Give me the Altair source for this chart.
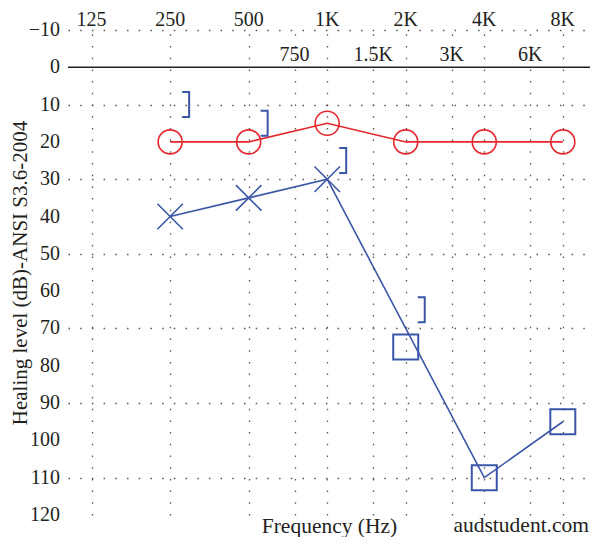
import altair as alt
import pandas as pd

FONT = "Liberation Serif"
RED = "#e8262d"
BLUE = "#3a56a8"
INK = "#231f20"

# ---- data ----
freqs = [250, 500, 1000, 2000, 4000, 8000]
right_air_db = [20, 20, 15, 20, 20, 20]
left_unmasked_freqs = [250, 500, 1000]
left_unmasked_db = [40, 35, 30]
left_masked_freqs = [2000, 4000, 8000]
left_masked_db = [75, 110, 95]
left_line_freqs = [250, 500, 1000, 4000, 8000]
left_line_db = [40, 35, 30, 110, 95]
left_bone_freqs = [250, 500, 1000, 2000]
left_bone_db = [10, 15, 25, 65]
octave_freqs = [125, 250, 500, 1000, 2000, 4000, 8000]
octave_labels = ["125", "250", "500", "1K", "2K", "4K", "8K"]
mid_freqs = [750, 1500, 3000, 6000]
mid_labels = ["750", "1.5K", "3K", "6K"]
grid_freqs = [125, 250, 500, 750, 1000, 1500, 2000, 3000, 4000, 6000, 8000]
db_ticks = [-10, 0, 10, 20, 30, 40, 50, 60, 70, 80, 90, 100, 110, 120]
db_tick_labels = ["\u221210", "0", "10", "20", "30", "40", "50", "60",
                  "70", "80", "90", "100", "110", "120"]

right_df = pd.DataFrame({"freq": freqs, "db": right_air_db})
left_x_df = pd.DataFrame({"freq": left_unmasked_freqs, "db": left_unmasked_db})
left_sq_df = pd.DataFrame({"freq": left_masked_freqs, "db": left_masked_db})
left_line_df = pd.DataFrame({"freq": left_line_freqs, "db": left_line_db})
bone_df = pd.DataFrame({"freq": left_bone_freqs, "db": left_bone_db})
oct_df = pd.DataFrame({"freq": octave_freqs, "label": octave_labels})
mid_df = pd.DataFrame({"freq": mid_freqs, "label": mid_labels})
ylab_df = pd.DataFrame({"db": db_ticks, "label": db_tick_labels})

x_enc = alt.X(
    "freq:Q",
    scale=alt.Scale(type="log", base=2, domain=[101.5, 10170], nice=False),
    axis=alt.Axis(
        values=grid_freqs, labels=False, ticks=False, domain=False,
        grid=True, gridDash=[1.5, 10.2], gridColor="#555", gridWidth=1.3,
        title="Frequency (Hz)", titleFont=FONT, titleFontSize=21.5,
        titleFontWeight="normal", titleColor=INK, titlePadding=0.5,
    ),
)
y_enc = alt.Y(
    "db:Q",
    scale=alt.Scale(domain=[-10, 120], reverse=True, nice=False, zero=False),
    axis=alt.Axis(
        values=db_ticks, ticks=False, domain=False, labels=False,
        grid=True, gridDash=[1.5, 10.2], gridColor="#555", gridWidth=1.3,
        title="Healing level (dB)-ANSI S3.6-2004", titleFont=FONT,
        titleFontSize=21, titleFontWeight="normal", titleColor=INK,
        titlePadding=38,
    ),
)

zero_rule = alt.Chart(pd.DataFrame({"z": [0]})).mark_rule(
    color=INK, strokeWidth=1.6
).encode(y=alt.datum(0))

right_line = alt.Chart(right_df).mark_line(color=RED, strokeWidth=1.6).encode(x=x_enc, y=y_enc)
right_pts = alt.Chart(right_df).mark_point(
    shape="circle", size=576, filled=False, color=RED, strokeWidth=1.6, opacity=1
).encode(x=x_enc, y=y_enc)

left_line = alt.Chart(left_line_df).mark_line(color=BLUE, strokeWidth=1.6).encode(x=x_enc, y=y_enc)
left_x = alt.Chart(left_x_df).mark_point(
    shape="M-1,-1L1,1M-1,1L1,-1", size=650, filled=False, color=BLUE,
    strokeWidth=1.6, opacity=1
).encode(x=x_enc, y=y_enc)
left_sq = alt.Chart(left_sq_df).mark_point(
    shape="square", size=625, filled=False, color=BLUE, strokeWidth=2, opacity=1
).encode(x=x_enc, y=y_enc)
bone = alt.Chart(bone_df).mark_point(
    shape="M-0.28,-1L0.28,-1L0.28,1L-0.28,1", size=625, filled=False,
    color=BLUE, strokeWidth=2, opacity=1, xOffset=15.5
).encode(x=x_enc, y=y_enc)

ylabels = alt.Chart(ylab_df).mark_text(
    font=FONT, fontSize=20, color=INK, baseline="middle", align="right"
).encode(x=alt.value(-8), y=y_enc, text="label:N")

oct_text = alt.Chart(oct_df).mark_text(
    font=FONT, fontSize=20, color=INK, baseline="alphabetic", align="center", dy=-4.5
).encode(x=x_enc, y=alt.datum(-10), text="label:N")
mid_text = alt.Chart(mid_df).mark_text(
    font=FONT, fontSize=20, color=INK, baseline="alphabetic", align="center", dy=-6
).encode(x=x_enc, y=alt.datum(0), text="label:N")

watermark = alt.Chart(pd.DataFrame({"t": ["audstudent.com"]})).mark_text(
    font=FONT, fontSize=21.5, color=INK, align="right", baseline="alphabetic"
).encode(x=alt.value(521), y=alt.value(502), text="t:N")

chart = alt.layer(
    zero_rule, right_line, left_line, right_pts, left_x, left_sq, bone,
    ylabels, oct_text, mid_text, watermark
).properties(
    width=522, height=485,
    autosize=alt.AutoSizeParams(type="none"),
    padding={"left": 60, "top": 22, "right": 0, "bottom": 22},
    background="white",
).configure_view(stroke=None)

chart.save("out.html", embed_options={"renderer": "svg", "actions": False})
